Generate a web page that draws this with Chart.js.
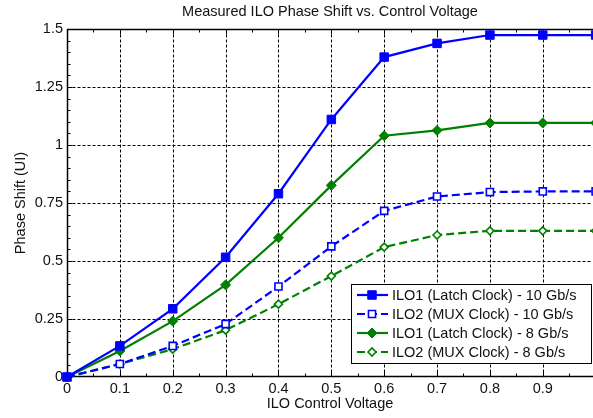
<!DOCTYPE html>
<html>
<head>
<meta charset="utf-8">
<script src="https://cdn.jsdelivr.net/npm/chart.js@4.4.1/dist/chart.umd.min.js"></script>
<style>
  html, body { margin: 0; padding: 0; background: #fff; }
  canvas { display: block; }
</style>
</head>
<body>
<canvas id="ilo" width="593" height="418"></canvas>
<script>
// data
const voltages = [0, 0.1, 0.2, 0.3, 0.4, 0.5, 0.6, 0.7, 0.8, 0.9, 1.0];
const ilo1_10g = [0, 0.134, 0.294, 0.516, 0.79, 1.11, 1.379, 1.438, 1.474, 1.474, 1.474];
const ilo2_10g = [0, 0.056, 0.134, 0.228, 0.39, 0.563, 0.716, 0.778, 0.797, 0.8, 0.8];
const ilo1_8g = [0, 0.112, 0.241, 0.397, 0.6, 0.826, 1.04, 1.063, 1.095, 1.095, 1.095];
const ilo2_8g = [0, 0.056, 0.12, 0.202, 0.314, 0.435, 0.56, 0.612, 0.63, 0.63, 0.63];

const xTicks = [0, 0.1, 0.2, 0.3, 0.4, 0.5, 0.6, 0.7, 0.8, 0.9];
const yTicks = [0, 0.25, 0.5, 0.75, 1, 1.25, 1.5];

const FONT = 'Arial, "Liberation Sans", sans-serif';
const FSIZE = 14.5;
const BLUE = '#0000ff';
const GREEN = '#008000';

const toPoints = (ys) => ys.map((y, i) => ({ x: voltages[i], y: y }));

// grid, tick marks and box like the original plot
const framePlugin = {
    id: 'frame',
    beforeDatasetsDraw(chart) {
        const { ctx, chartArea: a } = chart;
        const xs = chart.scales.x, ys = chart.scales.y;
        const L = Math.round(a.left) + 0.5, R = Math.round(a.right) - 0.5;
        const T = Math.round(a.top) + 0.5, B = Math.round(a.bottom) - 0.5;
        ctx.save();
        ctx.strokeStyle = '#000';
        ctx.lineWidth = 1;

        // dotted grid
        ctx.setLineDash([3, 2]);
        xTicks.forEach(v => {
            if (v === 0) return;
            const px = Math.round(xs.getPixelForValue(v)) + 0.5;
            ctx.beginPath(); ctx.moveTo(px, T); ctx.lineTo(px, B); ctx.stroke();
        });
        yTicks.forEach(v => {
            if (v === 0 || v === 1.5) return;
            const py = Math.round(ys.getPixelForValue(v)) + 0.5;
            ctx.beginPath(); ctx.moveTo(L, py); ctx.lineTo(R, py); ctx.stroke();
        });
        ctx.setLineDash([]);

        // minor + major ticks (inside)
        for (let i = 0; i <= 19; i++) {
            const px = Math.round(xs.getPixelForValue(i * 0.05)) + 0.5;
            const len = i % 2 === 0 ? 5 : 3;
            ctx.beginPath();
            ctx.moveTo(px, B); ctx.lineTo(px, B - len);
            ctx.moveTo(px, T); ctx.lineTo(px, T + len);
            ctx.stroke();
        }
        for (let i = 0; i <= 30; i++) {
            const py = Math.round(ys.getPixelForValue(i * 0.05)) + 0.5;
            const len = i % 5 === 0 ? 5 : 3;
            ctx.beginPath(); ctx.moveTo(L, py); ctx.lineTo(L + len, py); ctx.stroke();
        }

        // box
        ctx.lineWidth = 1.5;
        ctx.beginPath();
        ctx.moveTo(R + 2, T); ctx.lineTo(L, T); ctx.lineTo(L, B); ctx.lineTo(R + 2, B);
        ctx.stroke();
        ctx.restore();
    },
    afterDraw(chart) {
        // legend box in the lower right corner
        const { ctx } = chart;
        const bx = 351.5, by = 284.5, bw = 240, bh = 79;
        ctx.save();
        ctx.fillStyle = '#fff';
        ctx.strokeStyle = '#000';
        ctx.lineWidth = 1;
        ctx.fillRect(bx, by, bw, bh);
        ctx.strokeRect(bx, by, bw, bh);
        ctx.font = FSIZE + 'px ' + FONT;
        ctx.textBaseline = 'middle';
        chart.data.datasets.forEach((ds, i) => {
            const cy = 295 + i * 19;
            ctx.strokeStyle = ds.borderColor;
            ctx.lineWidth = ds.borderWidth;
            ctx.setLineDash(ds.borderDash || []);
            ctx.beginPath(); ctx.moveTo(357, cy); ctx.lineTo(388, cy); ctx.stroke();
            ctx.setLineDash([]);
            ctx.fillStyle = ds.pointBackgroundColor;
            ctx.strokeStyle = ds.pointBorderColor;
            ctx.lineWidth = ds.pointBorderWidth;
            Chart.helpers.drawPoint(ctx, {
                pointStyle: ds.pointStyle, radius: ds.pointRadius,
                borderWidth: ds.pointBorderWidth, rotation: 0
            }, 372, cy);
            ctx.fillStyle = '#111';
            ctx.fillText(ds.label, 392, cy + 1);
        });
        ctx.restore();
    }
};

new Chart(document.getElementById('ilo'), {
    type: 'line',
    data: {
        datasets: [
            {
                label: 'ILO1 (Latch Clock) - 10 Gb/s', data: toPoints(ilo1_10g),
                borderColor: BLUE, borderWidth: 2.2,
                pointStyle: 'rect', pointRadius: 6, pointBorderWidth: 1,
                pointBackgroundColor: BLUE, pointBorderColor: BLUE
            },
            {
                label: 'ILO2 (MUX Clock) - 10 Gb/s', data: toPoints(ilo2_10g),
                borderColor: BLUE, borderWidth: 2.2, borderDash: [8, 4],
                pointStyle: 'rect', pointRadius: 5, pointBorderWidth: 1.6,
                pointBackgroundColor: '#fff', pointBorderColor: BLUE
            },
            {
                label: 'ILO1 (Latch Clock) - 8 Gb/s', data: toPoints(ilo1_8g),
                borderColor: GREEN, borderWidth: 2.2,
                pointStyle: 'rectRot', pointRadius: 5, pointBorderWidth: 1,
                pointBackgroundColor: GREEN, pointBorderColor: GREEN
            },
            {
                label: 'ILO2 (MUX Clock) - 8 Gb/s', data: toPoints(ilo2_8g),
                borderColor: GREEN, borderWidth: 2.2, borderDash: [8, 4],
                pointStyle: 'rectRot', pointRadius: 4, pointBorderWidth: 1.6,
                pointBackgroundColor: '#fff', pointBorderColor: GREEN
            }
        ].map(ds => Object.assign(ds, {
            tension: 0, fill: false,
            clip: { left: 8, top: 8, right: 0, bottom: 8 }
        }))
    },
    options: {
        responsive: false,
        animation: false,
        layout: { padding: 0, autoPadding: false },
        plugins: {
            legend: { display: false },
            tooltip: { enabled: false },
            title: {
                display: true,
                fullSize: false,
                text: 'Measured ILO Phase Shift vs. Control Voltage',
                color: '#111',
                font: { family: FONT, size: FSIZE, weight: 'normal', lineHeight: 1.2 },
                padding: { top: 3.3, bottom: 8.3 }
            }
        },
        scales: {
            x: {
                type: 'linear', min: 0, max: 0.995,
                grid: { display: false, drawTicks: false },
                border: { display: false },
                afterBuildTicks: (s) => { s.ticks = xTicks.map(v => ({ value: v })); },
                afterFit: (s) => { s.height = 41; s.paddingLeft = 0; s.paddingRight = 0; },
                ticks: {
                    padding: 3, color: '#111',
                    font: { family: FONT, size: FSIZE },
                    callback: (v) => String(+v.toFixed(2))
                },
                title: {
                    display: true, text: 'ILO Control Voltage', color: '#111',
                    font: { family: FONT, size: FSIZE, lineHeight: 1.2 },
                    padding: { top: 0, bottom: 5 }
                }
            },
            y: {
                type: 'linear', min: 0, max: 1.5,
                grid: { display: false, drawTicks: false },
                border: { display: false },
                afterBuildTicks: (s) => { s.ticks = yTicks.map(v => ({ value: v })); },
                afterFit: (s) => { s.width = 67; s.paddingTop = 0; s.paddingBottom = 0; },
                ticks: {
                    padding: 4, color: '#111',
                    font: { family: FONT, size: FSIZE },
                    callback: (v) => String(v)
                },
                title: {
                    display: true, text: 'Phase Shift (UI)', color: '#111',
                    font: { family: FONT, size: FSIZE, lineHeight: 1.2 },
                    padding: { top: 12.3, bottom: 0 }
                }
            }
        }
    },
    plugins: [framePlugin]
});
</script>
</body>
</html>
